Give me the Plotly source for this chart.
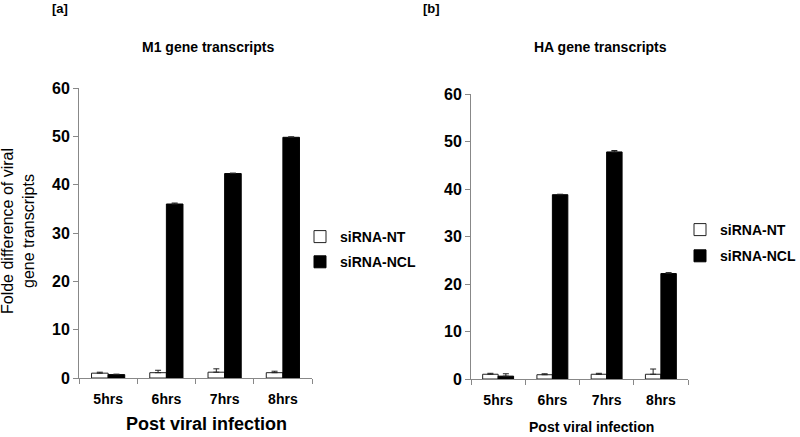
import plotly.graph_objects as go

categories = ["5hrs", "6hrs", "7hrs", "8hrs"]

m1_nt = [1.0, 1.1, 1.2, 1.1]
m1_nt_err = [0.2, 0.5, 0.7, 0.3]
m1_ncl = [0.7, 36.0, 42.3, 49.8]
m1_ncl_err = [0.1, 0.2, 0.1, 0.1]

ha_nt = [1.0, 0.9, 1.0, 1.0]
ha_nt_err = [0.2, 0.2, 0.2, 1.1]
ha_ncl = [0.6, 38.8, 47.8, 22.2]
ha_ncl_err = [0.5, 0.1, 0.3, 0.2]

y_ticks = [0, 10, 20, 30, 40, 50, 60]

FONT = "Arial, Liberation Sans, sans-serif"
W, H = 800, 437

def px(x):
    return x / W

def py(y):
    return 1 - y / H

fig = go.Figure()

def add_pair(nt, nt_err, ncl, ncl_err, xa, ya, legend):
    fig.add_trace(go.Bar(
        x=categories, y=nt, name="siRNA-NT", xaxis=xa, yaxis=ya, legend=legend,
        legendgroup=legend + "nt",
        marker=dict(color="white", line=dict(color="#222", width=1)),
        error_y=dict(type="data", symmetric=False, array=nt_err,
                     arrayminus=[0]*len(nt_err), color="#222", thickness=1, width=3),
    ))
    fig.add_trace(go.Bar(
        x=categories, y=ncl, name="siRNA-NCL", xaxis=xa, yaxis=ya, legend=legend,
        legendgroup=legend + "ncl",
        marker=dict(color="black", line=dict(color="black", width=1)),
        error_y=dict(type="data", symmetric=False, array=ncl_err,
                     arrayminus=[0]*len(ncl_err), color="#222", thickness=1, width=3),
    ))

add_pair(m1_nt, m1_nt_err, m1_ncl, m1_ncl_err, "x", "y", "legend")
add_pair(ha_nt, ha_nt_err, ha_ncl, ha_ncl_err, "x2", "y2", "legend2")

axis_common_x = dict(
    type="category", tickson="boundaries", ticks="outside", ticklen=5,
    tickcolor="#888", showline=True, linecolor="#888", linewidth=1,
    tickfont=dict(family=FONT, size=14, color="black", weight="bold"),
    ticklabelstandoff=8,
    showgrid=False, zeroline=False, automargin=False,
)
axis_common_y = dict(
    range=[0, 60], tickvals=y_ticks, ticks="outside", ticklen=5,
    tickcolor="#888", showline=True, linecolor="#888", linewidth=1,
    tickfont=dict(family=FONT, size=16, color="black", weight="bold"),
    showgrid=False, zeroline=False, automargin=False,
)

def ann(text, x, y, size, bold=True, angle=0, xanchor="center"):
    return dict(text=text, x=px(x), y=py(y), xref="paper", yref="paper",
                xanchor=xanchor, yanchor="middle", showarrow=False, textangle=angle,
                font=dict(family=FONT, size=size, color="black",
                          weight="bold" if bold else "normal"))

legend_font = dict(family=FONT, size=14, color="black", weight="bold")

fig.update_layout(
    width=W, height=H,
    margin=dict(l=0, r=0, t=0, b=0, autoexpand=False),
    paper_bgcolor="white", plot_bgcolor="white",
    barmode="group", bargap=0.43, bargroupgap=0.0,
    xaxis=dict(domain=[px(79), px(312)], anchor="y", **axis_common_x),
    yaxis=dict(domain=[py(378), py(88)], anchor="x", **axis_common_y),
    xaxis2=dict(domain=[px(471), px(688)], anchor="y2", **axis_common_x),
    yaxis2=dict(domain=[py(379), py(94)], anchor="x2", **axis_common_y),
    legend=dict(x=px(300), y=py(221), xanchor="left", yanchor="top",
                font=legend_font, bgcolor="rgba(0,0,0,0)", itemwidth=30,
                traceorder="grouped", tracegroupgap=4),
    legend2=dict(x=px(680), y=py(214), xanchor="left", yanchor="top",
                 font=legend_font, bgcolor="rgba(0,0,0,0)", itemwidth=30,
                 traceorder="grouped", tracegroupgap=5),
    annotations=[
        ann("[a]", 50, 8, 13, xanchor="left"),
        ann("[b]", 421, 8, 13, xanchor="left"),
        ann("M1 gene transcripts", 208, 47, 14),
        ann("HA gene transcripts", 600, 47, 14),
        ann("Post viral infection", 206, 424, 18),
        ann("Post viral infection", 591, 427, 14),
        ann("Folde difference of viral<br>gene transcripts", 18, 231, 16,
            bold=False, angle=-90),
    ],
)

fig.write_html("out.html", config={"displayModeBar": False},
               post_script="document.body.style.margin='0';document.body.style.overflow='hidden';")
